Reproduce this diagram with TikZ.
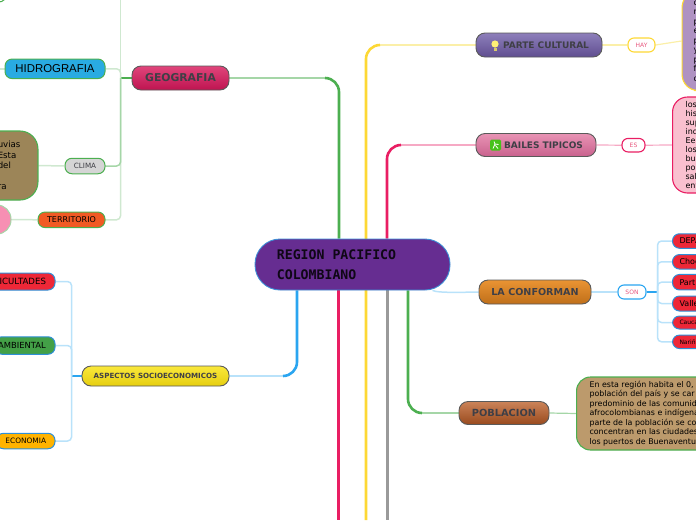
\documentclass[tikz,border=0pt]{standalone}
\usepackage{fontspec}
\setmainfont{DejaVu Sans}
\newfontfamily\regionfont{DejaVu Sans Mono}
\newfontfamily\hidrofont{Liberation Sans}
\usetikzlibrary{backgrounds}
\definecolor{RegionPurple}{HTML}{662D91}
\definecolor{RegionBorder}{HTML}{3D8FD6}
\definecolor{GeoGreen}{HTML}{4CAF50}
\definecolor{GeoMid}{HTML}{A5D6A7}
\definecolor{GeoPale}{HTML}{CFE8D0}
\definecolor{WireBlue}{HTML}{2AA5F0}
\definecolor{WirePale}{HTML}{B9E2FA}
\definecolor{WireYellow}{HTML}{FDD835}
\definecolor{WireYellowPale}{HTML}{FBEFA8}
\definecolor{WirePink}{HTML}{E91E63}
\definecolor{WirePinkPale}{HTML}{F6A9C4}
\definecolor{WireGray}{HTML}{9A9A9A}
\definecolor{TagText}{HTML}{E8587F}
\definecolor{MainEdge}{HTML}{5A5A5A}
\definecolor{MainText}{HTML}{3F3F46}
\definecolor{LeafRed}{HTML}{EE2737}
\definecolor{LeafEdge}{HTML}{2E8FD8}
\definecolor{GeoTop}{HTML}{E0457B}
\definecolor{GeoLow}{HTML}{BE1450}
\definecolor{ParteTop}{HTML}{8E7FBB}
\definecolor{ParteLow}{HTML}{5F4E90}
\definecolor{BailesTop}{HTML}{E893B4}
\definecolor{BailesLow}{HTML}{C9628E}
\definecolor{ConformanTop}{HTML}{EA9433}
\definecolor{ConformanLow}{HTML}{BF6F1A}
\definecolor{PoblacionTop}{HTML}{CB8358}
\definecolor{PoblacionLow}{HTML}{994A1E}
\definecolor{AspectosTop}{HTML}{FAE83A}
\definecolor{AspectosLow}{HTML}{E6CE10}
\definecolor{BulbLight}{HTML}{FFF176}
\definecolor{BulbBase}{HTML}{D9C96A}
\definecolor{IconGreen}{HTML}{46C21C}
\definecolor{CulturaFill}{HTML}{AF92C2}
\definecolor{TipicosFill}{HTML}{F9C0CF}
\definecolor{HabitaFill}{HTML}{BC9A6C}
\definecolor{LluviasFill}{HTML}{9C8558}
\definecolor{HidroFill}{HTML}{29ABE2}
\definecolor{ClimaFill}{HTML}{D5D5D5}
\definecolor{TerritorioFill}{HTML}{F15A24}
\definecolor{RosaFill}{HTML}{F78FB3}
\definecolor{AmbientalFill}{HTML}{43A047}
\definecolor{EconomiaFill}{HTML}{FFB300}
\tikzset{
  mainbox/.style={draw=MainEdge,line width=0.9pt,rounded corners=9pt,inner sep=0pt,text=MainText,font=\bfseries\fontsize{#1}{#1}\selectfont},
  tagbox/.style={draw=#1,fill=white,line width=1.1pt,rounded corners=6pt,inner sep=0pt,text=TagText,font=\fontsize{6}{6}\selectfont},
  leafbox/.style={draw=#1,line width=1pt,rounded corners=7pt,inner sep=0pt},
  notebox/.style={draw=#1,line width=1.1pt,inner sep=0pt,align=left},
  stem/.style={draw=#1,line width=2.6pt,rounded corners=14pt},
  trunk/.style={draw=#1,line width=3pt},
  lead/.style={draw=#1,line width=1.2pt},
  twig/.style={draw=#1,line width=1.5pt,rounded corners=4pt}
}
\begin{document}
\begin{tikzpicture}[x=1pt,y=-1pt]
  \useasboundingbox (0,0) rectangle (696,520);
  \node[draw=RegionBorder,fill=RegionPurple,line width=0.9pt,rounded corners=25pt,minimum width=195pt,minimum height=51pt,inner sep=0pt,text=black!85!RegionPurple,align=left,font=\regionfont\bfseries\fontsize{13.2}{20}\selectfont] (region) at (352.5,264.5) {REGION PACIFICO\hspace*{32pt}\\COLOMBIANO};

  \node[mainbox=10.8,top color=GeoTop,bottom color=GeoLow,minimum width=97pt,minimum height=24pt] (geografia) at (180.5,78) {GEOGRAFIA};
  \node[mainbox=9,top color=ParteTop,bottom color=ParteLow,minimum width=126pt,minimum height=24pt] (parte) at (539,45) {\hspace*{14pt}PARTE CULTURAL};
  \node[mainbox=9,top color=BailesTop,bottom color=BailesLow,minimum width=120pt,minimum height=23pt] (bailes) at (536,145) {\hspace*{15pt}BAILES TIPICOS};
  \node[mainbox=9.6,top color=ConformanTop,bottom color=ConformanLow,minimum width=112pt,minimum height=24pt] (conforman) at (535,292) {LA CONFORMAN};
  \node[mainbox=9.8,top color=PoblacionTop,bottom color=PoblacionLow,minimum width=90pt,minimum height=23pt] (poblacion) at (504,413) {POBLACION};
  \node[mainbox=7.1,top color=AspectosTop,bottom color=AspectosLow,minimum width=147pt,minimum height=20pt] (aspectos) at (155.5,376) {ASPECTOS SOCIOECONOMICOS};

  \fill[BulbLight] (495,44) circle (3.6pt);
  \fill[BulbBase] (493.5,47.5) rectangle (496.5,51);
  \fill[IconGreen,rounded corners=1.5pt] (490,139.5) rectangle (501,150.5);
  \draw[white,line width=0.8pt] (494,141.5) -- (495,144) -- (498.5,144.5) (495,144) -- (493,148.5) (495.5,145.5) -- (498,148.5);

  \node[tagbox=WireYellow,minimum width=27pt,minimum height=14pt] (hay) at (641.5,45) {HAY};
  \node[tagbox=WirePink,minimum width=23pt,minimum height=13.5pt] (es) at (633.5,145.2) {ES};
  \node[tagbox=WireBlue,minimum width=28pt,minimum height=14pt] (son) at (632,292) {SON};

  \node[notebox=WireYellow,fill=CulturaFill,rounded corners=16pt,minimum height=99pt,anchor=west,inner xsep=11.5pt,font=\fontsize{8.2}{9.5}\selectfont] (cultura) at (681.5,41) {c\\n\\p\\e\\p\\y\\p\\f\\c};
  \node[notebox=WirePink,fill=TipicosFill,rounded corners=15pt,minimum height=96pt,anchor=west,inner xsep=13pt,font=\fontsize{8}{9}\selectfont] (tipicos) at (672,145) {los\\his\\sup\\ind\\Eer\\los\\bur\\pop\\sal\\ent};
  \node[notebox=GeoGreen,fill=HabitaFill,rounded corners=14pt,minimum height=73pt,anchor=west,inner xsep=13pt,font=\fontsize{7.9}{9.5}\selectfont] (habita) at (576,413.5) {En esta región habita el 0,\\población del país y se car\\predominio de las comunid\\afrocolombianas e indígena\\parte de la población se co\\concentran en las ciudades\\los puertos de Buenaventu};
  \node[notebox=GeoGreen,fill=LluviasFill,rounded corners=18pt,minimum height=69pt,inner xsep=17.5pt,anchor=east,font=\fontsize{8.6}{10.6}\selectfont] (lluvias) at (38.5,165.5) {uvias\\Esta\\del\\ \\ra};

  \node[leafbox=GeoGreen,fill=HidroFill,minimum width=100pt,minimum height=19.5pt,font=\hidrofont\fontsize{11.4}{11.4}\selectfont] (hidrografia) at (55,68.8) {HIDROGRAFIA};
  \node[leafbox=GeoGreen,fill=ClimaFill,minimum width=40pt,minimum height=15.5pt,text=MainText,font=\fontsize{7.2}{7.2}\selectfont] (clima) at (85,166) {CLIMA};
  \node[leafbox=GeoGreen,fill=TerritorioFill,minimum width=67pt,minimum height=15.5pt,font=\fontsize{8}{8}\selectfont] (territorio) at (71.5,219.8) {TERRITORIO};
  \node[leafbox=GeoMid,fill=RosaFill,rounded corners=14pt,minimum width=30pt,minimum height=29pt] (rosa) at (-4,219.5) {};
  \node[leafbox=GeoGreen,fill=white,minimum width=36pt,minimum height=22pt] (esquina) at (-12,-9) {};

  \node[leafbox=LeafEdge,fill=LeafRed,minimum width=68pt,minimum height=17pt,anchor=east,font=\fontsize{8.6}{8.6}\selectfont] (dificultades) at (55.5,281.5) {DIFICULTADES\hspace*{9pt}};
  \node[leafbox=LeafEdge,fill=AmbientalFill,minimum width=60pt,minimum height=17.5pt,anchor=east,font=\fontsize{8.4}{8.4}\selectfont] (ambiental) at (55.5,345.5) {AMBIENTAL\hspace*{6pt}};
  \node[leafbox=LeafEdge,fill=EconomiaFill,minimum width=58.5pt,minimum height=15.5pt,anchor=east,font=\fontsize{7.4}{7.4}\selectfont] (economia) at (55.5,441) {ECONOMIA};

  \foreach \name/\ypos/\high/\size/\label in {depa/241/14.5/8/DEPA,choc/261.8/14.5/8/Choc,part/282.2/15.5/8/Part,valle/303.5/15/8/Valle,cauca/322.5/13/6/Cauca,narino/341.8/13.5/6/Nariñ}
    \node[leafbox=LeafEdge,fill=LeafRed,minimum height=\high pt,anchor=west,text width=43pt,inner xsep=7pt,align=left,font=\fontsize{\size}{\size}\selectfont] (\name) at (672,\ypos) {\label};

  \begin{scope}[on background layer]
    \coordinate (geotree) at ([xshift=-11pt]geografia.west);
    \coordinate (geotop) at (geotree |- 0,0);
    \coordinate (aspectree) at ([xshift=-10pt]aspectos.west);
    \coordinate (sontree) at ([xshift=11pt]son.east);
    \coordinate (geobend) at (325,78);
    \coordinate (partebend) at (380,45);
    \coordinate (bailesbend) at (401,145);
    \coordinate (aspectosbend) at (283,376);
    \coordinate (poblacionbend) at (422,413);
    \coordinate (yellowend) at (366,520);
    \coordinate (pinkend) at (338.4,520);
    \coordinate (grayend) at (387.4,520);
    \coordinate (hidroend) at (0,68.8);

    \draw[lead=GeoMid] (geografia.east) -- (geobend);
    \draw[stem=GeoGreen] (geobend) -| ([xshift=-13.5pt]region.north);
    \draw[lead=WireYellowPale] (parte.east) -- (hay.west);
    \draw[lead=WireYellowPale] (hay.east) -- (cultura.west);
    \draw[lead=WireYellowPale] (parte.west) -- (partebend);
    \draw[stem=WireYellow] (partebend) -| (yellowend);
    \draw[lead=WirePinkPale] (bailes.west) -- (bailesbend);
    \draw[stem=WirePink] (bailesbend) -| ([xshift=34.5pt]region.north);
    \draw[lead=WirePinkPale] (bailes.east) -- (es.west);
    \draw[lead=WirePinkPale] (es.east) -- (tipicos.west);
    \draw[trunk=WirePink] ([xshift=-14.1pt]region.south) -- (pinkend);
    \draw[trunk=WireGray] ([xshift=34.9pt]region.south) -- (grayend);
    \draw[lead=WirePale] (aspectos.east) -- (aspectosbend);
    \draw[stem=WireBlue] (aspectosbend) -| ([xshift=-55.5pt]region.south);
    \draw[lead=GeoMid] (poblacion.west) -- (poblacionbend);
    \draw[stem=GeoGreen] (poblacionbend) -| ([xshift=55.5pt]region.south);
    \draw[lead=GeoMid] (poblacion.east) -- (habita.west);
    \draw[lead=WirePale,line width=1.5pt] ([xshift=-18pt]region.south east) .. controls +(6,3) and +(-8,0) .. (conforman.west);
    \draw[lead=WirePale,line width=1.5pt] (conforman.east) -- (son.west);

    \draw[lead=GeoGreen] (geografia.west) -- (geotree);
    \draw[twig=GeoPale] (geotop) -- (geotree);
    \draw[twig=GeoPale] (hidrografia.east) -| (geotree);
    \draw[twig=GeoPale] (territorio.east) -| (geotree);
    \draw[twig=GeoMid] (clima.east) -| (geotree);
    \draw[twig=GeoPale] (clima.west) -- (lluvias.east);
    \draw[twig=GeoPale] (territorio.west) -- (rosa.east);
    \draw[twig=GeoPale] (hidrografia.west) -- (hidroend);

    \draw[lead=WireBlue] (aspectos.west) -- (aspectree);
    \foreach \name in {dificultades,ambiental,economia}
      \draw[twig=WirePale] (\name.east) -| (aspectree);
    \draw[lead=WireBlue,line width=1.6pt] (son.east) -- (sontree);
    \foreach \name in {depa,choc,part,valle,cauca,narino}
      \draw[twig=WirePale] (\name.west) -| (sontree);
  \end{scope}
\end{tikzpicture}
\end{document}
